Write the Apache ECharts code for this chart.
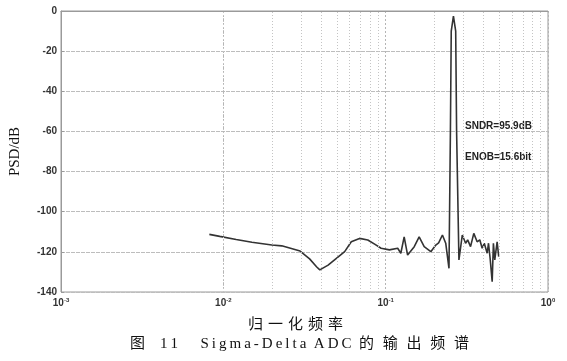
<!DOCTYPE html>
<html>
<head>
<meta charset="utf-8">
<script src="https://cdn.jsdelivr.net/npm/echarts@6/dist/echarts.min.js"></script>
<style>
  html, body { margin: 0; padding: 0; background: #fff; }
  #chart { width: 567px; height: 361px; }
</style>
</head>
<body>
<div id="chart"></div>
<script>
// PSD curve (normalised frequency, dB)
var freq = [0.0082, 0.0095, 0.0120, 0.0150, 0.0199, 0.0229, 0.0297, 0.0340, 0.0375, 0.0393, 0.0442,
	0.0559, 0.0614, 0.0690, 0.0776, 0.0860, 0.0937, 0.1054, 0.1186, 0.1240, 0.1300, 0.1365,
	0.1500, 0.1608, 0.1727, 0.1897, 0.2036, 0.2120, 0.2237, 0.2344, 0.2455, 0.2505, 0.2535,
	0.2615, 0.2700, 0.2735, 0.2827, 0.2965, 0.3107, 0.3200, 0.3334, 0.3490, 0.3660, 0.3800,
	0.3930, 0.4050, 0.4220, 0.4300, 0.4400, 0.4530, 0.4610, 0.4700, 0.4860, 0.4970];
var psd = [-111.3, -112.3, -113.8, -115.2, -116.6, -117.0, -119.6, -123.5, -127.4, -129.0, -126.6,
	-119.9, -115.0, -113.3, -114.1, -116.3, -118.2, -119.0, -118.2, -120.7, -112.5, -121.6,
	-117.4, -112.5, -117.4, -119.9, -116.6, -115.5, -111.6, -115.7, -128.2, -60, -10,
	-2.5, -10, -60, -124.0, -111.6, -115.7, -114.0, -117.4, -110.8, -115.0, -114.0,
	-118.2, -115.7, -120.7, -115.7, -123.2, -134.9, -115.7, -124.0, -115.0, -122.4];
var decades = [0.001, 0.01, 0.1];
var notes = ['SNDR=95.9dB', 'ENOB=15.6bit'];
var xName = '归一化频率';
var caption = ['图', '11', 'Sigma-Delta', 'ADC', '的输出频谱'];

var chart = echarts.init(document.getElementById('chart'), '', { renderer: 'canvas' });

function Spread(str, gap) {	// puts a small space between letters (printed look)
	return str.split('').join(gap);
}

let points = [];
for (let i = 0; i < freq.length; i++) {
	points.push([freq[i], psd[i]]);
}
// minor grid lines at 2..9 of each decade
let minorLines = [];
for (let i = 0; i < decades.length; i++) {
	for (let k = 2; k <= 9; k++) {
		minorLines.push({ xAxis: +(decades[i] * k).toPrecision(3) });
	}
}

let capText = Spread(caption[0], '') + '\u2003' + Spread(caption[1], '\u2009') + '\u2003\u2002' +
	Spread(caption[2], '\u2009') + '\u2002' + Spread(caption[3], '\u2009') + '\u2002' +
	Spread(caption[4], '\u2002\u200a');

chart.setOption({
	animation: false,
	grid: {
		left: 58, right: 19, top: 11, bottom: 69,
		show: true, borderColor: '#9a9a9a', borderWidth: 1
	},
	xAxis: {
		type: 'log',
		logBase: 10,
		min: 0.001,
		max: 1,
		name: Spread(xName, '\u2004'),
		nameLocation: 'middle',
		nameGap: 24,
		nameTextStyle: { fontFamily: 'Noto Sans CJK SC', fontSize: 15, color: '#111', padding: [0, 18, 0, 0] },
		axisLine: { lineStyle: { color: '#9a9a9a' } },
		axisTick: { show: false },
		splitLine: { show: true, lineStyle: { color: '#b5b5b5', type: [2, 2] } },
		axisLabel: {
			margin: 5,
			formatter: function(v) {
				return '{b|10}{s|' + Math.round(Math.log10(v)) + '}';
			},
			rich: {
				b: { fontFamily: 'Liberation Sans', fontWeight: 'bold', fontSize: 10, color: '#333' },
				s: { fontFamily: 'Liberation Sans', fontWeight: 'bold', fontSize: 6, color: '#333', padding: [0, 0, 7, 0] }
			}
		}
	},
	yAxis: {
		type: 'value',
		min: -140,
		max: 0,
		interval: 20,
		name: 'PSD/dB',
		nameLocation: 'middle',
		nameGap: 38,
		nameTextStyle: { fontFamily: 'Liberation Serif', fontSize: 15, color: '#111' },
		axisLine: { show: true, lineStyle: { color: '#9a9a9a' } },
		axisTick: { show: true, inside: true, length: 3, lineStyle: { color: '#9a9a9a' } },
		splitLine: { show: true, lineStyle: { color: '#bdbdbd', type: [4, 1] } },
		axisLabel: {
			margin: 4,
			fontFamily: 'Liberation Sans',
			fontWeight: 'bold',
			fontSize: 10,
			color: '#333'
		}
	},
	series: [{
		type: 'line',
		data: points,
		showSymbol: false,
		lineStyle: { color: '#333', width: 1.6 },
		markLine: {
			silent: true,
			symbol: 'none',
			label: { show: false },
			lineStyle: { color: '#c4c4c4', type: [1, 2], width: 1 },
			data: minorLines
		}
	}],
	graphic: [
		{
			type: 'text', left: 465, top: 121,
			style: { text: notes[0], font: 'bold 10px "Liberation Sans Narrow", "Liberation Sans"', fill: '#222' }
		},
		{
			type: 'text', left: 465, top: 152,
			style: { text: notes[1], font: 'bold 10px "Liberation Sans Narrow", "Liberation Sans"', fill: '#222' }
		},
		{
			type: 'text', left: 130, top: 337,
			style: {
				text: capText,
				font: '15px "Liberation Serif", "Noto Sans CJK SC"',
				fill: '#111'
			}
		}
	]
});
</script>
</body>
</html>
